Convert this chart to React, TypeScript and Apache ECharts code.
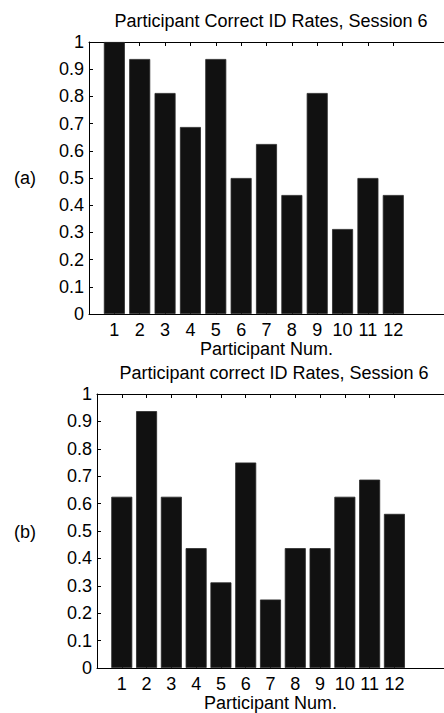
import React, { useEffect, useRef } from "react";
import * as echarts from "echarts";

const participants = [1, 2, 3, 4, 5, 6, 7, 8, 9, 10, 11, 12];
const ratesA = [1.0, 0.9375, 0.8125, 0.6875, 0.9375, 0.5, 0.625, 0.4375, 0.8125, 0.3125, 0.5, 0.4375];
const ratesB = [0.625, 0.9375, 0.625, 0.4375, 0.3125, 0.75, 0.25, 0.4375, 0.4375, 0.625, 0.6875, 0.5625];
const titleA = "Participant Correct ID Rates, Session 6";
const titleB = "Participant correct ID Rates, Session 6";
const xName = "Participant Num.";

const FONT = "Liberation Sans, Arial, Helvetica, sans-serif";
const FS = 18;

export default function App() {
  const ref = useRef<HTMLDivElement>(null);
  useEffect(() => {
    const chart = echarts.init(ref.current!, null, { renderer: "svg" });
    const grids = [
      { left: 89, top: 42, width: 361, height: 272 },
      { left: 97, top: 394, width: 353, height: 274 },
    ];
    const textStyle = { color: "#000", fontFamily: FONT, fontSize: FS };
    const xAxes: any[] = [];
    const yAxes: any[] = [];
    grids.forEach((_, i) => {
      xAxes.push({
        type: "value",
        gridIndex: i,
        position: "bottom",
        min: 0,
        max: 14,
        interval: 1,
        name: xName,
        nameLocation: "middle",
        nameGap: 26,
        nameTextStyle: textStyle,
        axisLine: { show: true, lineStyle: { color: "#000", width: 1 } },
        axisTick: { show: true, inside: true, length: 4, customValues: participants, lineStyle: { color: "#000" } },
        axisLabel: { ...textStyle, margin: 7, customValues: participants, formatter: (v: number) => String(v) },
        splitLine: { show: false },
      });
      xAxes.push({
        type: "value",
        gridIndex: i,
        position: "top",
        min: 0,
        max: 14,
        interval: 1,
        axisLine: { show: true, lineStyle: { color: "#000", width: 1 } },
        axisTick: { show: true, inside: true, length: 4, customValues: participants, lineStyle: { color: "#000" } },
        axisLabel: { show: false },
        splitLine: { show: false },
      });
      yAxes.push({
        type: "value",
        gridIndex: i,
        min: 0,
        max: 1,
        interval: 0.1,
        axisLine: { show: true, lineStyle: { color: "#000", width: 1 } },
        axisTick: { show: true, inside: true, length: 4, lineStyle: { color: "#000" } },
        axisLabel: {
          ...textStyle,
          margin: 5,
          formatter: (v: number) => (v === 0 ? "0" : v >= 1 ? "1" : v.toFixed(1)),
        },
        splitLine: { show: false },
      });
    });
    const barStyle = { color: "#111111", borderColor: "#2a2a2a", borderWidth: 0.8 };
    const font = `${FS}px ${FONT}`;
    chart.setOption({
      animation: false,
      backgroundColor: "#fff",
      grid: grids,
      xAxis: xAxes,
      yAxis: yAxes,
      series: [
        {
          type: "bar",
          xAxisIndex: 0,
          yAxisIndex: 0,
          barWidth: 21,
          itemStyle: barStyle,
          data: participants.map((p, k) => [p, ratesA[k]]),
        },
        {
          type: "bar",
          xAxisIndex: 2,
          yAxisIndex: 1,
          barWidth: 21,
          itemStyle: barStyle,
          data: participants.map((p, k) => [p, ratesB[k]]),
        },
      ],
      graphic: [
        { type: "text", x: 271, y: 21, style: { text: titleA, fill: "#000", align: "center", verticalAlign: "middle", font } },
        { type: "text", x: 274, y: 373, style: { text: titleB, fill: "#000", align: "center", verticalAlign: "middle", font } },
        { type: "text", x: 25, y: 178, style: { text: "(a)", fill: "#000", align: "center", verticalAlign: "middle", font } },
        { type: "text", x: 25, y: 532, style: { text: "(b)", fill: "#000", align: "center", verticalAlign: "middle", font } },
      ],
    });
    return () => chart.dispose();
  }, []);
  return <div ref={ref} style={{ position: "fixed", left: 0, top: 0, width: 444, height: 713, background: "#fff" }} />;
}
